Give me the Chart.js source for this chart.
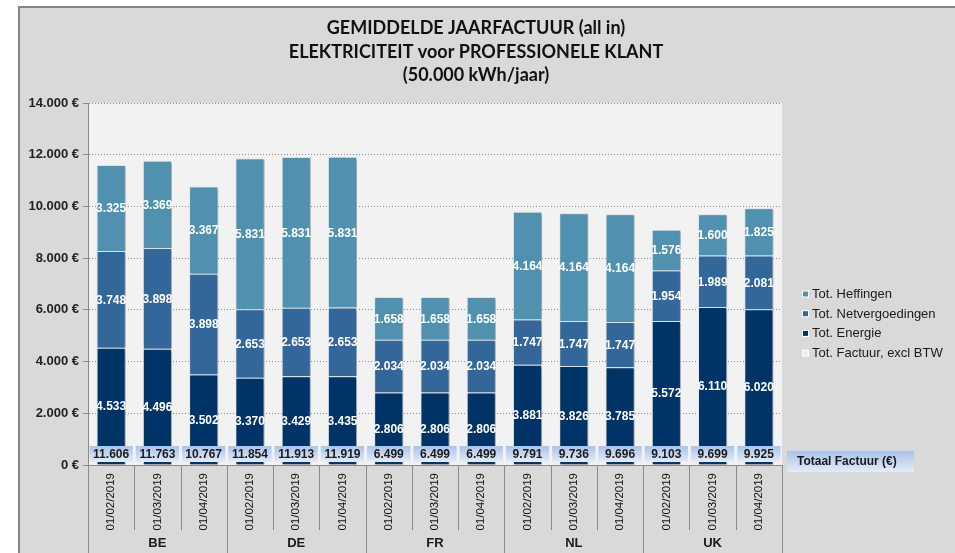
<!DOCTYPE html>
<html><head><meta charset="utf-8">
<script src="https://cdn.jsdelivr.net/npm/chart.js@4.4.1/dist/chart.umd.min.js"></script>
<style>html,body{margin:0;padding:0;background:#fff;overflow:hidden}#wrap{position:absolute;left:0;top:0;width:955px;height:553px}</style>
</head><body><div id="wrap"><canvas id="c" width="955" height="553"></canvas></div>
<script>
const titleLines = ['GEMIDDELDE JAARFACTUUR (all in)', 'ELEKTRICITEIT voor PROFESSIONELE KLANT', '(50.000 kWh/jaar)'];
const countries = ['BE', 'DE', 'FR', 'NL', 'UK'];
const dates = ['01/02/2019', '01/03/2019', '01/04/2019'];
const seriesNames = ['Tot. Heffingen', 'Tot. Netvergoedingen', 'Tot. Energie', 'Tot. Factuur, excl BTW'];
const energie = [4533, 4496, 3502, 3370, 3429, 3435, 2806, 2806, 2806, 3881, 3826, 3785, 5572, 6110, 6020];
const netvergoedingen = [3748, 3898, 3898, 2653, 2653, 2653, 2034, 2034, 2034, 1747, 1747, 1747, 1954, 1989, 2081];
const heffingen = [3325, 3369, 3367, 5831, 5831, 5831, 1658, 1658, 1658, 4164, 4164, 4164, 1576, 1600, 1825];
const totaalFactuur = [11606, 11763, 10767, 11854, 11913, 11919, 6499, 6499, 6499, 9791, 9736, 9696, 9103, 9699, 9925];
const tableLabel = 'Totaal Factuur (€)';
const yMax = 14000, yStep = 2000;

const labels = countries.flatMap(() => dates);
const fmt = v => String(Math.round(v)).replace(/\B(?=(\d{3})+(?!\d))/g, '.');
const FONT = 'Arial, "Liberation Sans", sans-serif';

const decor = {
  id: 'decor',
  beforeDraw(chart) {
    const ctx = chart.ctx, ca = chart.chartArea;
    ctx.save();
    ctx.fillStyle = '#ffffff'; ctx.fillRect(0, 0, 955, 553);
    ctx.fillStyle = '#d9d9d9'; ctx.fillRect(18, 6, 937, 547);
    ctx.fillStyle = '#858585'; ctx.fillRect(18, 6, 937, 2); ctx.fillRect(18, 6, 2, 547);
    ctx.fillStyle = '#f2f2f2'; ctx.fillRect(ca.left, ca.top, ca.right - ca.left, ca.bottom - ca.top);
    ctx.restore();
  },
  beforeDatasetsDraw(chart) {
    const ctx = chart.ctx;
    ctx.save();
    ctx.shadowColor = 'rgba(0,0,0,0.28)'; ctx.shadowOffsetX = 2; ctx.shadowOffsetY = 1; ctx.shadowBlur = 2;
  },
  afterDatasetsDraw(chart) {
    const ctx = chart.ctx; ctx.restore();
    const ca = chart.chartArea, xs = chart.scales.x;
    ctx.save();
    // segment labels
    ctx.font = 'bold 12px ' + FONT; ctx.fillStyle = '#ffffff'; ctx.textAlign = 'center'; ctx.textBaseline = 'middle';
    for (let d = 0; d < 3; d++) {
      const meta = chart.getDatasetMeta(d);
      meta.data.forEach((el, i) => {
        const v = chart.data.datasets[d].data[i];
        ctx.fillText(fmt(v), el.x, (el.y + el.base) / 2 + 1);
      });
    }
    // totals row
    const slot = (ca.right - ca.left) / labels.length;
    const bw = slot - 3, top = ca.bottom - 19, bh = 16;
    totaalFactuur.forEach((v, i) => {
      const x = xs.getPixelForValue(i);
      const g = ctx.createLinearGradient(0, top, 0, top + bh);
      g.addColorStop(0, '#a9c3ec'); g.addColorStop(1, '#e3ebf7');
      ctx.fillStyle = g; ctx.fillRect(x - bw / 2, top, bw, bh);
      ctx.fillStyle = '#1a1a1a'; ctx.font = 'bold 12px ' + FONT;
      ctx.fillText(fmt(v), x, top + bh / 2 + 1);
    });
    // table label box
    const g2 = ctx.createLinearGradient(0, 451, 0, 472);
    g2.addColorStop(0, '#a9c3ec'); g2.addColorStop(1, '#e3ebf7');
    ctx.fillStyle = g2; ctx.fillRect(787, 451, 127, 21);
    ctx.fillStyle = '#1a1a1a'; ctx.textAlign = 'left'; ctx.font = 'bold 12px ' + FONT;
    ctx.fillText(tableLabel, 797, 462);
    // separators under axis
    ctx.strokeStyle = '#8a8a8a'; ctx.lineWidth = 1;
    for (let i = 0; i <= labels.length; i++) {
      const x = Math.round(ca.left + i * slot) + 0.5;
      const group = i % dates.length === 0;
      ctx.beginPath(); ctx.moveTo(x, group && (i === 0) ? ca.top : ca.bottom); ctx.lineTo(x, group ? 553 : 530); ctx.stroke();
    }
    // group labels
    ctx.fillStyle = '#1a1a1a'; ctx.font = 'bold 13px ' + FONT; ctx.textAlign = 'center';
    countries.forEach((c, k) => {
      const x = ca.left + (k * dates.length + dates.length / 2) * slot;
      ctx.fillText(c, x, 543);
    });
    // legend
    ctx.textAlign = 'left'; ctx.font = '13px ' + FONT;
    const order = [2, 1, 0, 3];
    order.forEach((d, k) => {
      const ds = chart.data.datasets[d];
      const y = 294 + k * 19.7;
      ctx.fillStyle = '#ffffff'; ctx.fillRect(802, y - 3.5, 7, 7);
      ctx.fillStyle = ds.legendColor; ctx.fillRect(803, y - 2.5, 5, 5);
      ctx.fillStyle = '#1a1a1a'; ctx.fillText(ds.label, 812, y + 0.5);
    });
    // title
    ctx.textAlign = 'center'; ctx.fillStyle = '#111111';
    ctx.font = 'bold 18px Lato, "Open Sans", sans-serif';
    const ty = [28, 52, 75.5];
    titleLines.forEach((t, k) => ctx.fillText(t, 476, ty[k]));
    ctx.restore();
  }
};

new Chart(document.getElementById('c'), {
  type: 'bar',
  data: {
    labels,
    datasets: [
      { label: seriesNames[2], data: energie, backgroundColor: '#003366', legendColor: '#003366', borderColor: '#dfe6ee', borderWidth: 1, stack: 's' },
      { label: seriesNames[1], data: netvergoedingen, backgroundColor: '#336699', legendColor: '#336699', borderColor: '#dfe6ee', borderWidth: 1, stack: 's' },
      { label: seriesNames[0], data: heffingen, backgroundColor: '#4f91af', legendColor: '#4f91af', borderColor: '#dfe6ee', borderWidth: 1, stack: 's' },
      { type: 'line', label: seriesNames[3], data: totaalFactuur, showLine: false, pointRadius: 0, borderColor: 'rgba(0,0,0,0)', backgroundColor: 'rgba(0,0,0,0)', legendColor: '#eeeeee', stack: 't' }
    ]
  },
  options: {
    responsive: false, animation: false, events: [],
    layout: { padding: { left: 18, right: 173, top: 103, bottom: 0 } },
    datasets: { bar: { categoryPercentage: 1, barPercentage: 0.63 } },
    plugins: { legend: { display: false }, title: { display: false }, tooltip: { enabled: false } },
    scales: {
      x: {
        stacked: true,
        grid: { display: false, drawTicks: false },
        border: { display: true, color: '#8a8a8a' },
        ticks: { minRotation: 90, maxRotation: 90, autoSkip: false, padding: 8, color: '#111', font: { family: FONT, size: 11.5 } },
        afterFit(a) { a.height = 88; }
      },
      y: {
        stacked: true, min: 0, max: yMax,
        ticks: { stepSize: yStep, callback: v => fmt(v) + ' €', padding: 4, color: '#222', font: { family: FONT, size: 13, weight: 'bold' } },
        grid: { color: '#8c8c8c', tickLength: 5 },
        border: { display: true, color: '#9a9a9a', dash: [1, 2] },
        afterFit(a) { a.width = 70; }
      }
    }
  },
  plugins: [decor]
});
</script></body></html>
